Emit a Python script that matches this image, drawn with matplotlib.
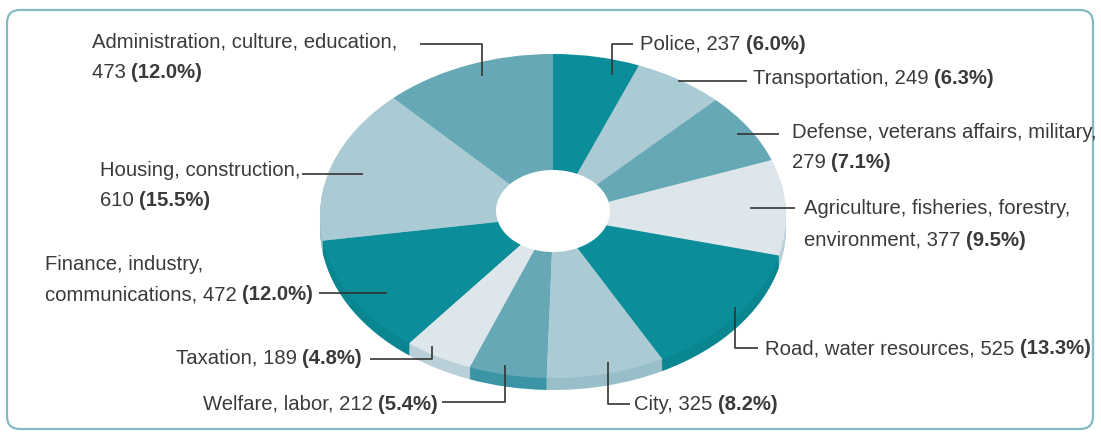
"""Budget allocation by sector, drawn as a tilted ring chart."""

import matplotlib

matplotlib.use("Agg")
import matplotlib.pyplot as plt
from matplotlib.patches import Wedge, Ellipse, FancyBboxPatch
from matplotlib.transforms import Affine2D

# data, clockwise from 12 o'clock
names = [
    "Police",
    "Transportation",
    "Defense, veterans affairs, military,",
    "Agriculture, fisheries, forestry,\nenvironment",
    "Road, water resources",
    "City",
    "Welfare, labor",
    "Taxation",
    "Finance, industry,\ncommunications",
    "Housing, construction,",
    "Administration, culture, education,",
]
values = [237, 249, 279, 377, 525, 325, 212, 189, 472, 610, 473]

# colour cycle of the slices (top face / side)
TOP = {"dark": "#0b8e99", "mid": "#66a8b6", "light": "#abcbd4", "pale": "#dde7eb"}
SIDE = {"dark": "#0a8690", "mid": "#3b95a6", "light": "#98bec9", "pale": "#bad0d8"}
shade = ["dark", "light", "mid", "pale", "dark", "light", "mid", "pale", "dark", "light", "mid"]

# layout in pixels (y downwards)
W, H = 1101, 440
CX, CY = 553, 216
RX, RY = 233, 162
DEPTH = 12
HOLE = (553, 211, 57, 41)
TEXT_COLOR = "#3a3a3a"
FONT = ["Liberation Sans", "DejaVu Sans"]
FS = 14.6
LINE_STEP = 31

# label anchor (x, y of last line, alignment) and leader paths
label_pos = [
    (640, 44, "left"),
    (753, 79, "left"),
    (792, 163, "left"),
    (804, 240, "left"),
    (765, 349, "left"),
    (634, 405, "left"),
    (438, 404, "right"),
    (362, 358, "right"),
    (313, 295, "right"),
    (100, 201, "left"),
    (92, 73, "left"),
]
leaders = [
    [(612, 75), (612, 44), (633, 44)],
    [(678, 81), (747, 81)],
    [(737, 134), (779, 134)],
    [(750, 208), (795, 208)],
    [(735, 307), (735, 348), (758, 348)],
    [(608, 362), (608, 404), (630, 404)],
    [(505, 365), (505, 402), (442, 402)],
    [(432, 346), (432, 359), (370, 359)],
    [(319, 293), (387, 293)],
    [(302, 174), (363, 174)],
    [(420, 44), (482, 44), (482, 76)],
]


def ellipse_transform(ax, cy):
    return Affine2D().scale(RX, -RY).translate(CX, cy) + ax.transData


def draw_label(ax, renderer, text, value, pct, x, y, ha):
    lines = text.split("\n")
    if text.endswith(","):
        head, last = lines, f"{value} "
    else:
        head, last = lines[:-1], f"{lines[-1]}, {value} "
    bold = f"({pct:.1f}%)"
    inv = ax.transData.inverted()
    style = dict(va="center", fontsize=FS, family=FONT, color=TEXT_COLOR)
    if ha == "left":
        x0 = x
        t = ax.text(x, y, last, ha="left", **style)
        x_end = inv.transform(t.get_window_extent(renderer).p1)[0]
        ax.text(x_end, y, bold, ha="left", fontweight="bold", **style)
    else:
        t = ax.text(x, y, bold, ha="right", fontweight="bold", **style)
        x_start = inv.transform(t.get_window_extent(renderer).p0)[0]
        t = ax.text(x_start, y, last, ha="right", **style)
        x0 = inv.transform(t.get_window_extent(renderer).p0)[0]
    for i, line in enumerate(reversed(head)):
        ax.text(x0, y - LINE_STEP * (i + 1), line, ha="left", **style)


fig = plt.figure(figsize=(W / 100, H / 100), dpi=100)
ax = fig.add_axes([0, 0, 1, 1])
ax.set_xlim(0, W)
ax.set_ylim(H, 0)
ax.axis("off")

ax.add_patch(FancyBboxPatch((7, 10), W - 15, H - 21, boxstyle="round,pad=0,rounding_size=13",
                            facecolor="white", edgecolor="#86bac2", linewidth=1.6))

total = sum(values)
shares = [v / total * 100 for v in values]
bounds = [0.0]
for v in values:
    bounds.append(bounds[-1] + v / total)

# side of the ring: stacked copies of the wedges
for k in range(DEPTH, 0, -1):
    tr = ellipse_transform(ax, CY + k)
    for i in range(len(values)):
        w = Wedge((0, 0), 1, 90 - bounds[i + 1] * 360, 90 - bounds[i] * 360,
                  facecolor=SIDE[shade[i]], edgecolor="none")
        w.set_transform(tr)
        ax.add_patch(w)

# top face
tr = ellipse_transform(ax, CY)
for i in range(len(values)):
    w = Wedge((0, 0), 1, 90 - bounds[i + 1] * 360, 90 - bounds[i] * 360,
              facecolor=TOP[shade[i]], edgecolor="none")
    w.set_transform(tr)
    ax.add_patch(w)

hx, hy, ha_, hb = HOLE
ax.add_patch(Ellipse((hx, hy), 2 * ha_, 2 * hb, facecolor="white", edgecolor="none"))

for path in leaders:
    xs, ys = zip(*path)
    ax.plot(xs, ys, color="#333333", linewidth=1.2, solid_capstyle="butt")

renderer = fig.canvas.get_renderer()
for i, name in enumerate(names):
    x, y, ha = label_pos[i]
    draw_label(ax, renderer, name, values[i], shares[i], x, y, ha)

fig.savefig("out.png", dpi=100)
